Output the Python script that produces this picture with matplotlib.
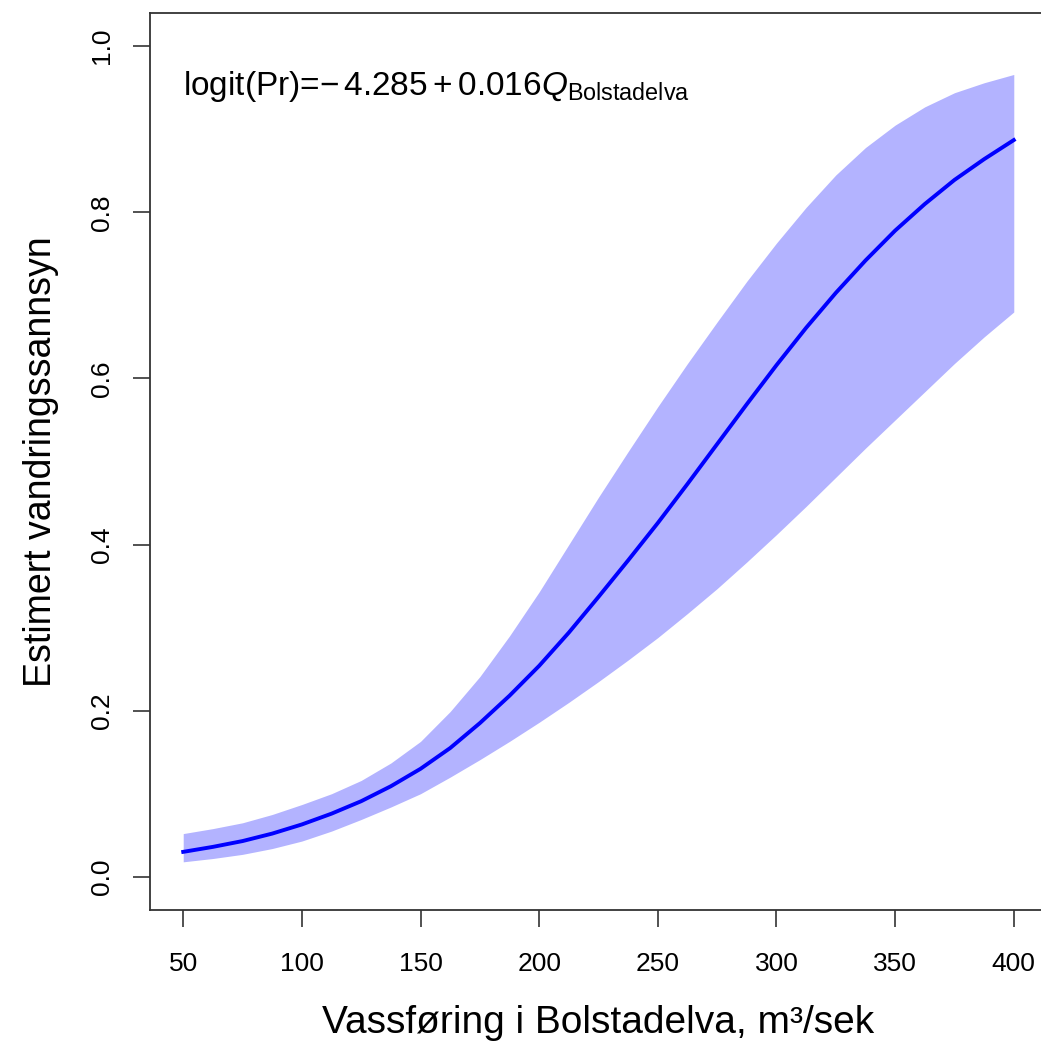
import matplotlib

matplotlib.use("Agg")
import matplotlib.pyplot as plt

# Values (every 12.5 m3/s)
vassforing = [50, 62.5, 75, 87.5, 100, 112.5, 125, 137.5, 150, 162.5, 175, 187.5, 200,
              212.5, 225, 237.5, 250, 262.5, 275, 287.5, 300, 312.5, 325, 337.5, 350,
              362.5, 375, 387.5, 400]
sannsyn = [0.030, 0.036, 0.043, 0.052, 0.063, 0.076, 0.091, 0.109, 0.130, 0.155, 0.185,
           0.218, 0.254, 0.294, 0.337, 0.381, 0.426, 0.473, 0.521, 0.569, 0.616, 0.661,
           0.703, 0.742, 0.778, 0.810, 0.839, 0.864, 0.887]
ci_lower = [0.018, 0.022, 0.027, 0.034, 0.043, 0.055, 0.069, 0.084, 0.100, 0.120, 0.141,
            0.163, 0.186, 0.210, 0.235, 0.261, 0.288, 0.317, 0.347, 0.379, 0.412, 0.446,
            0.481, 0.516, 0.550, 0.584, 0.618, 0.650, 0.680]
ci_upper = [0.052, 0.058, 0.065, 0.075, 0.087, 0.100, 0.116, 0.137, 0.163, 0.199, 0.241,
            0.290, 0.343, 0.400, 0.457, 0.512, 0.566, 0.618, 0.668, 0.717, 0.763, 0.806,
            0.845, 0.878, 0.905, 0.927, 0.944, 0.956, 0.966]

x_ticks = [50, 100, 150, 200, 250, 300, 350, 400]
y_ticks = [0.0, 0.2, 0.4, 0.6, 0.8, 1.0]

plt.rcParams["font.family"] = ["Liberation Sans", "DejaVu Sans"]
plt.rcParams["mathtext.fontset"] = "custom"
plt.rcParams["mathtext.rm"] = "Liberation Sans"
plt.rcParams["mathtext.it"] = "Liberation Sans:italic"

W, H = 1041, 1045
fig = plt.figure(figsize=(W / 100, H / 100), dpi=100)
ax = fig.add_axes([150 / W, 135 / H, 897 / W, 897 / H])

ax.fill_between(vassforing, ci_lower, ci_upper, color="#B3B3FF", linewidth=0)
ax.plot(vassforing, sannsyn, color="#0000FF", linewidth=2.8)

ax.set_xlim(36, 414)
ax.set_ylim(-0.04, 1.04)
ax.set_xticks(x_ticks)
ax.set_yticks(y_ticks)
ax.set_yticklabels([f"{v:.1f}" for v in y_ticks], rotation=90, va="center")

ax.tick_params(axis="both", length=12, width=1.2, labelsize=19, color="#333333")
ax.tick_params(axis="x", pad=18)
ax.tick_params(axis="y", pad=14)
for spine in ax.spines.values():
    spine.set_linewidth(1.3)
    spine.set_color("#333333")

ax.set_xlabel("Vassføring i Bolstadelva, m³/sek", fontsize=28, labelpad=21)
ax.set_ylabel("Estimert vandringssannsyn", fontsize=27, labelpad=22)

ax.text(50, 0.951, r"logit(Pr)=$-\,4.285+0.016Q_{\mathrm{Bolstadelva}}$",
        fontsize=24, ha="left", va="center")

fig.savefig("out.png", dpi=100)
